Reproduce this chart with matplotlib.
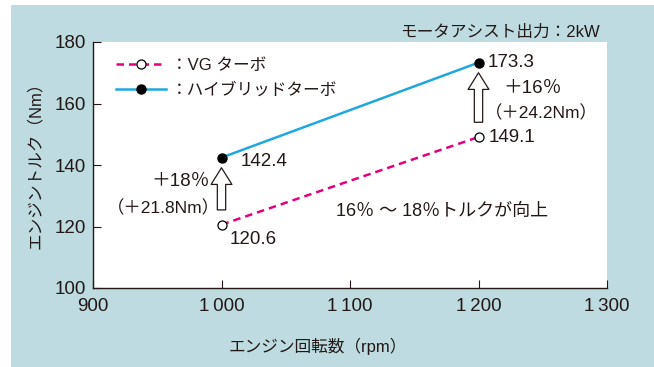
import matplotlib.pyplot as plt
from matplotlib.patches import Rectangle

plt.rcParams['font.family'] = ['Liberation Sans', 'Noto Sans CJK JP', 'DejaVu Sans']

rpm = [1000, 1200]
vg_torque = [120.6, 149.1]
hybrid_torque = [142.4, 173.3]
gain_pct = ['＋18％', '＋16％']
gain_nm = ['（＋21.8Nm）', '（＋24.2Nm）']
xticks = [900, 1000, 1100, 1200, 1300]
xtick_labels = ['900', '1\u2009000', '1\u2009100', '1\u2009200', '1\u2009300']
yticks = [100, 120, 140, 160, 180]

bg = '#bddbe1'
pink = '#e5007e'
cyan = '#1fa8e0'
txt = '#231815'
fs = 12      # japanese text
fn = 13.5    # numbers

fig = plt.figure(figsize=(6.54, 3.67), dpi=100, facecolor='white')
fig.patches.append(Rectangle((11 / 654, 0), 1, 1 - 5 / 367, transform=fig.transFigure,
                             facecolor=bg, edgecolor='none', zorder=-10))
ax = fig.add_axes([93 / 654, 79 / 367, 514 / 654, 246 / 367])
ax.set_facecolor('white')

ax.plot(rpm, vg_torque, color=pink, lw=1.8, ls=(0, (3, 2)), marker='o', ms=6.5,
        mfc='white', mec='black', mew=0.9, label='：VG ターボ', zorder=3)
ax.plot(rpm, hybrid_torque, color=cyan, lw=1.8, marker='o', ms=6.5,
        mfc='black', mec='black', label='：ハイブリッドターボ', zorder=3)

ax.set_xlim(900, 1300)
ax.set_ylim(100, 180)
ax.set_xticks(xticks)
ax.set_xticklabels(xtick_labels)
ax.set_yticks(yticks)
ax.tick_params(direction='in', length=6, width=0.8, labelsize=fn, colors=txt)
ax.tick_params(axis='x', pad=7)
ax.tick_params(axis='y', pad=5)
for s in ['top', 'right']:
    ax.spines[s].set_visible(False)
for s in ['left', 'bottom']:
    ax.spines[s].set_linewidth(1.0)
    ax.spines[s].set_color(txt)

ax.set_xlabel('エンジン回転数（rpm）', fontsize=fs, color=txt, va='center')
ax.xaxis.set_label_coords(0.438, -0.236)
ax.set_ylabel('エンジントルク（Nm）', fontsize=fs, color=txt, va='center')
ax.yaxis.set_label_coords(-0.113, 0.514)

# value labels
ax.annotate(f'{vg_torque[0]}', (rpm[0], vg_torque[0]), xytext=(6, -11), textcoords='offset points',
            fontsize=fn, color=txt, va='center')
ax.annotate(f'{hybrid_torque[0]}', (rpm[0], hybrid_torque[0]), xytext=(14, -3), textcoords='offset points',
            fontsize=fn, color=txt, va='center')
ax.annotate(f'{vg_torque[1]}', (rpm[1], vg_torque[1]), xytext=(7, 0), textcoords='offset points',
            fontsize=fn, color=txt, va='center')
ax.annotate(f'{hybrid_torque[1]}', (rpm[1], hybrid_torque[1]), xytext=(6.5, 0), textcoords='offset points',
            fontsize=fn, color=txt, va='center')

# hollow arrows with gains
for i, x in enumerate(rpm):
    lo = vg_torque[i] + 4.8
    hi = hybrid_torque[i] - 3.3
    ax.annotate('', xy=(x, hi), xytext=(x, lo),
                arrowprops=dict(arrowstyle='simple,head_length=0.8,head_width=1.0,tail_width=0.4',
                                mutation_scale=15, shrinkA=0, shrinkB=0,
                                fc='white', ec=txt, lw=0.9))
ax.text(968, 134.5, gain_pct[0], fontsize=fn, color=txt, ha='center', va='center')
ax.text(955, 126, gain_nm[0], fontsize=fs + 0.5, color=txt, ha='center', va='center')
ax.text(1242, 165, gain_pct[1], fontsize=fn, color=txt, ha='center', va='center')
ax.text(1249, 157, gain_nm[1], fontsize=fs + 0.5, color=txt, ha='center', va='center')

ax.text(1172, 125, '16％ ～ 18％トルクが向上', fontsize=13, color=txt, ha='center', va='center')
fig.text(600 / 654, 1 - 32 / 367, 'モータアシスト出力：2kW', fontsize=fs, color=txt,
         ha='right', va='center')

ax.legend(loc='upper left', bbox_to_anchor=(0.025, 0.975), frameon=False, fontsize=fs,
          handlelength=3.0, handletextpad=0.3, labelspacing=0.55, borderaxespad=0.2,
          labelcolor=txt)

fig.savefig('out.png', dpi=100, facecolor='white')
